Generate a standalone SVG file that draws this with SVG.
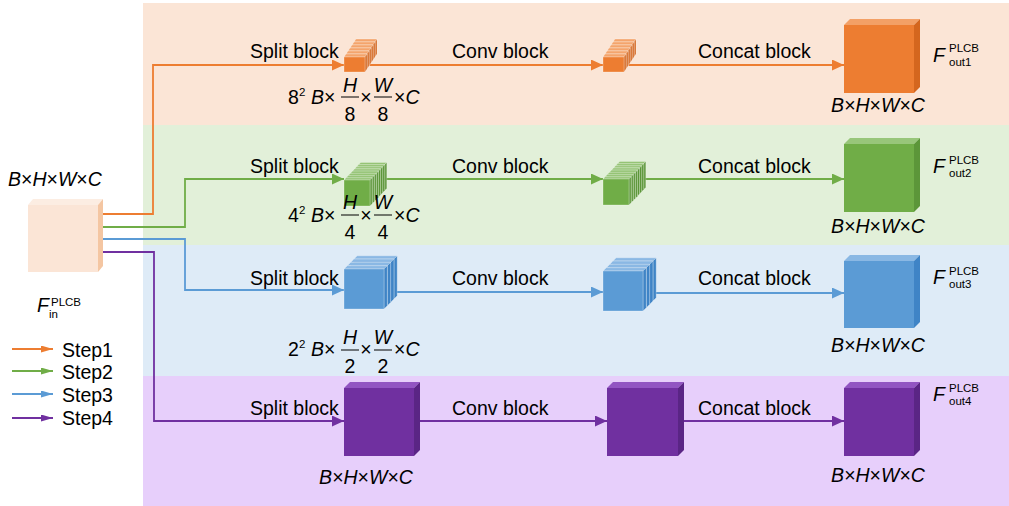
<svg xmlns="http://www.w3.org/2000/svg" xmlns:xlink="http://www.w3.org/1999/xlink" width="1009" height="506" viewBox="0 0 1009 506">
  <style>
    .t { font-family: "Liberation Sans", Arial, sans-serif; font-size: 19.5px; fill: #000; }
    .i { font-style: italic; }
    .sm { font-family: "Liberation Sans", Arial, sans-serif; font-size: 11.5px; fill: #000; }
    .bar { stroke: #000; stroke-width: 1; }
    .ln { fill: none; stroke-width: 1.8; }
    .o { stroke: #ED7D31; } .g { stroke: #70AD47; } .b { stroke: #5B9BD5; } .p { stroke: #7030A0; }
    .slice { stroke: rgba(255,255,255,0.45); stroke-width: 0.6; }
  </style>
  <defs>
    <marker id="ah-o" markerUnits="userSpaceOnUse" markerWidth="12" markerHeight="11" refX="12" refY="5.5" orient="auto"><path d="M0,0 L12,5.5 L0,11 z" fill="#ED7D31"/></marker>
    <marker id="ah-g" markerUnits="userSpaceOnUse" markerWidth="12" markerHeight="11" refX="12" refY="5.5" orient="auto"><path d="M0,0 L12,5.5 L0,11 z" fill="#70AD47"/></marker>
    <marker id="ah-b" markerUnits="userSpaceOnUse" markerWidth="12" markerHeight="11" refX="12" refY="5.5" orient="auto"><path d="M0,0 L12,5.5 L0,11 z" fill="#5B9BD5"/></marker>
    <marker id="ah-p" markerUnits="userSpaceOnUse" markerWidth="12" markerHeight="11" refX="12" refY="5.5" orient="auto"><path d="M0,0 L12,5.5 L0,11 z" fill="#7030A0"/></marker>
    <marker id="la-o" markerUnits="userSpaceOnUse" markerWidth="12" markerHeight="7" refX="12" refY="3.5" orient="auto"><path d="M0,0 L12,3.5 L0,7 z" fill="#ED7D31"/></marker>
    <marker id="la-g" markerUnits="userSpaceOnUse" markerWidth="12" markerHeight="7" refX="12" refY="3.5" orient="auto"><path d="M0,0 L12,3.5 L0,7 z" fill="#70AD47"/></marker>
    <marker id="la-b" markerUnits="userSpaceOnUse" markerWidth="12" markerHeight="7" refX="12" refY="3.5" orient="auto"><path d="M0,0 L12,3.5 L0,7 z" fill="#5B9BD5"/></marker>
    <marker id="la-p" markerUnits="userSpaceOnUse" markerWidth="12" markerHeight="7" refX="12" refY="3.5" orient="auto"><path d="M0,0 L12,3.5 L0,7 z" fill="#7030A0"/></marker>

    <!-- one thin slice of a stacked tensor; stacks are built back to front -->
    <g id="slice-o" class="slice">
      <polygon points="0,0 21,0 23,-3 2,-3" fill="#F4A46C"/>
      <polygon points="21,0 23,-3 23,12 21,15" fill="#D4661E"/>
      <rect x="0" y="0" width="21" height="15" fill="#ED7D31"/>
    </g>
    <g id="slice-g" class="slice">
      <polygon points="0,0 26,0 28.1,-2.2 2.1,-2.2" fill="#95C475"/>
      <polygon points="26,0 28.1,-2.2 28.1,23.8 26,26" fill="#5C9639"/>
      <rect x="0" y="0" width="26" height="26" fill="#70AD47"/>
    </g>
    <g id="slice-b" class="slice">
      <polygon points="0,0 40,0 43.3,-3.3 3.3,-3.3" fill="#8AB8E4"/>
      <polygon points="40,0 43.3,-3.3 43.3,36.7 40,40" fill="#3F84C6"/>
      <rect x="0" y="0" width="40" height="40" fill="#5B9BD5"/>
    </g>
  </defs>

  <!-- row bands -->
  <g id="bands">
    <rect x="143" y="3" width="866" height="122" fill="#FBE5D6"/>
    <rect x="143" y="125" width="866" height="120" fill="#E2F0D9"/>
    <rect x="143" y="245" width="866" height="131" fill="#DEEBF7"/>
    <rect x="143" y="376" width="866" height="130" fill="#E7CFFB"/>
  </g>

  <!-- connectors -->
  <g id="connectors">
    <path class="ln o" d="M98,214 H153 V65 H344" marker-end="url(#ah-o)"/>
    <path class="ln o" d="M364,65 H603" marker-end="url(#ah-o)"/>
    <path class="ln o" d="M624,65 H844" marker-end="url(#ah-o)"/>

    <path class="ln g" d="M98,227 H185 V179 H344" marker-end="url(#ah-g)"/>
    <path class="ln g" d="M370,179 H603" marker-end="url(#ah-g)"/>
    <path class="ln g" d="M629,179 H844" marker-end="url(#ah-g)"/>

    <path class="ln b" d="M98,239 H185 V290 H344" marker-end="url(#ah-b)"/>
    <path class="ln b" d="M384,292 H603" marker-end="url(#ah-b)"/>
    <path class="ln b" d="M643,293 H844" marker-end="url(#ah-b)"/>

    <path class="ln p" d="M98,252 H154 V421 H344" marker-end="url(#ah-p)"/>
    <path class="ln p" d="M414,421 H607" marker-end="url(#ah-p)"/>
    <path class="ln p" d="M678,421 H844" marker-end="url(#ah-p)"/>
  </g>

  <!-- input tensor -->
  <g id="input">
    <polygon points="28,205 98,205 103,199 33,199" fill="#FCEDE2"/>
    <polygon points="98,205 103,199 103,266 98,272" fill="#F4C6A2"/>
    <rect x="28" y="205" width="70" height="67" fill="#FBE5D6"/>
    <text class="t" x="8" y="186"><tspan class="i">B</tspan>×<tspan class="i">H</tspan>×<tspan class="i">W</tspan>×<tspan class="i">C</tspan></text>
    <text class="t i" x="37" y="312">F</text>
    <text class="sm" x="51" y="306" font-size="11">PLCB</text>
    <text class="sm" x="49" y="318" font-size="11.5">in</text>
  </g>

  <!-- step 1: 8x8 split -->
  <g id="split1">
    <use xlink:href="#slice-o" x="354" y="42"/>
    <use xlink:href="#slice-o" x="352" y="45"/>
    <use xlink:href="#slice-o" x="350" y="48"/>
    <use xlink:href="#slice-o" x="348" y="51"/>
    <use xlink:href="#slice-o" x="346" y="54"/>
    <use xlink:href="#slice-o" x="344" y="57"/>
    <text class="t" x="250" y="58">Split block</text>
    <text class="t" x="288" y="104">8</text>
    <text class="sm" x="299" y="96" font-size="11">2</text>
    <text class="t" x="311" y="104"><tspan class="i">B</tspan>×</text>
    <text class="t i" x="350" y="92" text-anchor="middle">H</text>
    <line class="bar" x1="341" y1="97" x2="359" y2="97"/>
    <text class="t" x="350" y="121" text-anchor="middle">8</text>
    <text class="t" x="366" y="104" text-anchor="middle">×</text>
    <text class="t i" x="383" y="92" text-anchor="middle">W</text>
    <line class="bar" x1="374" y1="97" x2="392" y2="97"/>
    <text class="t" x="383" y="121" text-anchor="middle">8</text>
    <text class="t" x="394" y="104">×<tspan class="i">C</tspan></text>
  </g>
  <g id="conv1">
    <use xlink:href="#slice-o" x="613" y="42"/>
    <use xlink:href="#slice-o" x="611" y="45"/>
    <use xlink:href="#slice-o" x="609" y="48"/>
    <use xlink:href="#slice-o" x="607" y="51"/>
    <use xlink:href="#slice-o" x="605" y="54"/>
    <use xlink:href="#slice-o" x="603" y="57"/>
    <text class="t" x="452" y="58">Conv block</text>
  </g>
  <g id="out1">
    <polygon points="844,25 914,25 920,19 850,19" fill="#F3A066"/>
    <polygon points="914,25 920,19 920,87 914,93" fill="#D4661E"/>
    <rect x="844" y="25" width="70" height="68" fill="#ED7D31"/>
    <text class="t" x="698" y="58">Concat block</text>
    <text class="t" x="878" y="112" text-anchor="middle"><tspan class="i">B</tspan>×<tspan class="i">H</tspan>×<tspan class="i">W</tspan>×<tspan class="i">C</tspan></text>
    <text class="t i" x="933" y="62">F</text>
    <text class="sm" x="949" y="52">PLCB</text>
    <text class="sm" x="949" y="66" font-size="11">out1</text>
  </g>

  <!-- step 2: 4x4 split -->
  <g id="split2">
    <use xlink:href="#slice-g" x="358.7" y="164.6"/>
    <use xlink:href="#slice-g" x="356.6" y="166.8"/>
    <use xlink:href="#slice-g" x="354.5" y="169"/>
    <use xlink:href="#slice-g" x="352.4" y="171.2"/>
    <use xlink:href="#slice-g" x="350.3" y="173.4"/>
    <use xlink:href="#slice-g" x="348.2" y="175.6"/>
    <use xlink:href="#slice-g" x="346.1" y="177.8"/>
    <use xlink:href="#slice-g" x="344" y="180"/>
    <text class="t" x="250" y="173">Split block</text>
    <text class="t" x="288" y="222">4</text>
    <text class="sm" x="299" y="214" font-size="11">2</text>
    <text class="t" x="311" y="222"><tspan class="i">B</tspan>×</text>
    <text class="t i" x="350" y="209" text-anchor="middle">H</text>
    <line class="bar" x1="341" y1="215" x2="359" y2="215"/>
    <text class="t" x="350" y="239" text-anchor="middle">4</text>
    <text class="t" x="366" y="222" text-anchor="middle">×</text>
    <text class="t i" x="383" y="209" text-anchor="middle">W</text>
    <line class="bar" x1="374" y1="215" x2="392" y2="215"/>
    <text class="t" x="383" y="239" text-anchor="middle">4</text>
    <text class="t" x="394" y="222">×<tspan class="i">C</tspan></text>
  </g>
  <g id="conv2">
    <use xlink:href="#slice-g" x="617.7" y="163.6"/>
    <use xlink:href="#slice-g" x="615.6" y="165.8"/>
    <use xlink:href="#slice-g" x="613.5" y="168"/>
    <use xlink:href="#slice-g" x="611.4" y="170.2"/>
    <use xlink:href="#slice-g" x="609.3" y="172.4"/>
    <use xlink:href="#slice-g" x="607.2" y="174.6"/>
    <use xlink:href="#slice-g" x="605.1" y="176.8"/>
    <use xlink:href="#slice-g" x="603" y="179"/>
    <text class="t" x="452" y="173">Conv block</text>
  </g>
  <g id="out2">
    <polygon points="844,144 914,144 920,138 850,138" fill="#98C67A"/>
    <polygon points="914,144 920,138 920,206 914,212" fill="#5C9639"/>
    <rect x="844" y="144" width="70" height="68" fill="#70AD47"/>
    <text class="t" x="698" y="173">Concat block</text>
    <text class="t" x="878" y="233" text-anchor="middle"><tspan class="i">B</tspan>×<tspan class="i">H</tspan>×<tspan class="i">W</tspan>×<tspan class="i">C</tspan></text>
    <text class="t i" x="933" y="173">F</text>
    <text class="sm" x="949" y="164">PLCB</text>
    <text class="sm" x="949" y="177" font-size="11">out2</text>
  </g>

  <!-- step 3: 2x2 split -->
  <g id="split3">
    <use xlink:href="#slice-b" x="353.9" y="259.1"/>
    <use xlink:href="#slice-b" x="350.6" y="262.4"/>
    <use xlink:href="#slice-b" x="347.3" y="265.7"/>
    <use xlink:href="#slice-b" x="344" y="269"/>
    <text class="t" x="250" y="285">Split block</text>
    <text class="t" x="288" y="356">2</text>
    <text class="sm" x="299" y="348" font-size="11">2</text>
    <text class="t" x="311" y="356"><tspan class="i">B</tspan>×</text>
    <text class="t i" x="350" y="344" text-anchor="middle">H</text>
    <line class="bar" x1="341" y1="350" x2="359" y2="350"/>
    <text class="t" x="350" y="373" text-anchor="middle">2</text>
    <text class="t" x="366" y="356" text-anchor="middle">×</text>
    <text class="t i" x="383" y="344" text-anchor="middle">W</text>
    <line class="bar" x1="374" y1="350" x2="392" y2="350"/>
    <text class="t" x="383" y="373" text-anchor="middle">2</text>
    <text class="t" x="394" y="356">×<tspan class="i">C</tspan></text>
  </g>
  <g id="conv3">
    <use xlink:href="#slice-b" x="612.9" y="261.1"/>
    <use xlink:href="#slice-b" x="609.6" y="264.4"/>
    <use xlink:href="#slice-b" x="606.3" y="267.7"/>
    <use xlink:href="#slice-b" x="603" y="271"/>
    <text class="t" x="452" y="285">Conv block</text>
  </g>
  <g id="out3">
    <polygon points="844,261 914,261 920,255 850,255" fill="#8AB8E4"/>
    <polygon points="914,261 920,255 920,322 914,328" fill="#3F84C6"/>
    <rect x="844" y="261" width="70" height="67" fill="#5B9BD5"/>
    <text class="t" x="698" y="285">Concat block</text>
    <text class="t" x="878" y="352" text-anchor="middle"><tspan class="i">B</tspan>×<tspan class="i">H</tspan>×<tspan class="i">W</tspan>×<tspan class="i">C</tspan></text>
    <text class="t i" x="933" y="284">F</text>
    <text class="sm" x="949" y="275">PLCB</text>
    <text class="sm" x="949" y="288" font-size="11">out3</text>
  </g>

  <!-- step 4: whole tensor -->
  <g id="split4">
    <polygon points="344,388 414,388 420,382 350,382" fill="#9255C2"/>
    <polygon points="414,388 420,382 420,450 414,456" fill="#5A2585"/>
    <rect x="344" y="388" width="70" height="68" fill="#7030A0"/>
    <text class="t" x="250" y="415">Split block</text>
    <text class="t" x="366" y="484" text-anchor="middle"><tspan class="i">B</tspan>×<tspan class="i">H</tspan>×<tspan class="i">W</tspan>×<tspan class="i">C</tspan></text>
  </g>
  <g id="conv4">
    <polygon points="607,388 678,388 684,382 613,382" fill="#9255C2"/>
    <polygon points="678,388 684,382 684,450 678,456" fill="#5A2585"/>
    <rect x="607" y="388" width="71" height="68" fill="#7030A0"/>
    <text class="t" x="452" y="415">Conv block</text>
  </g>
  <g id="out4">
    <polygon points="844,388 914,388 920,382 850,382" fill="#9255C2"/>
    <polygon points="914,388 920,382 920,450 914,456" fill="#5A2585"/>
    <rect x="844" y="388" width="70" height="68" fill="#7030A0"/>
    <text class="t" x="698" y="415">Concat block</text>
    <text class="t" x="878" y="482" text-anchor="middle"><tspan class="i">B</tspan>×<tspan class="i">H</tspan>×<tspan class="i">W</tspan>×<tspan class="i">C</tspan></text>
    <text class="t i" x="933" y="401">F</text>
    <text class="sm" x="949" y="392">PLCB</text>
    <text class="sm" x="949" y="405" font-size="11">out4</text>
  </g>

  <!-- legend -->
  <g id="legend">
    <line class="ln o" x1="12" y1="349" x2="53" y2="349" marker-end="url(#la-o)"/>
    <line class="ln g" x1="12" y1="371" x2="53" y2="371" marker-end="url(#la-g)"/>
    <line class="ln b" x1="12" y1="394" x2="53" y2="394" marker-end="url(#la-b)"/>
    <line class="ln p" x1="12" y1="418" x2="53" y2="418" marker-end="url(#la-p)"/>
    <text class="t" x="62" y="357">Step1</text>
    <text class="t" x="62" y="379">Step2</text>
    <text class="t" x="62" y="402">Step3</text>
    <text class="t" x="62" y="425">Step4</text>
  </g>
</svg>
